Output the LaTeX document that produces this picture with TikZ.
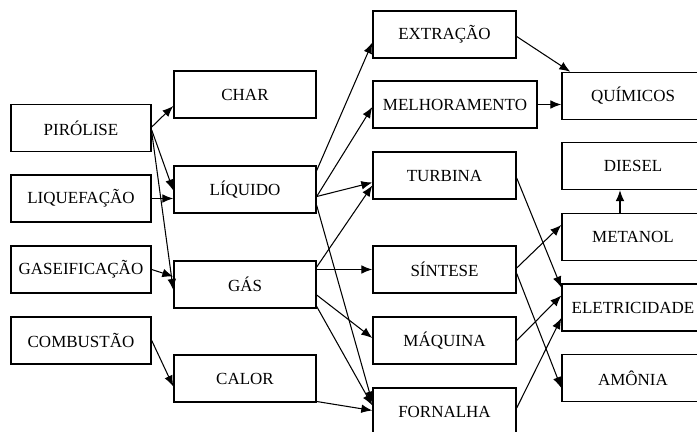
\documentclass[tikz,border=0pt]{standalone}
\usepackage{fontspec}
\setmainfont{Liberation Serif}
\usepackage{tikz}
\usetikzlibrary{arrows.meta,calc}
\tikzstyle{caixa}=[draw,line width=1.2pt,minimum height=1.41cm,inner sep=0pt,font=\fontsize{14.5}{17}\selectfont]
\tikzstyle{seta}=[draw,line width=0.9pt,-{Latex[length=3.3mm,width=2.6mm]}]

\begin{document}
\begin{tikzpicture}[x=0.03cm,y=-0.03cm]
\useasboundingbox (0,0) rectangle (697,432);
\clip (0,0) rectangle (697,432);
% processos
\node[caixa,minimum width=4.2cm](pirolise) at (81,128) {PIRÓLISE};
\node[caixa,minimum width=4.2cm](liquefacao) at (81,198.5) {LIQUEFAÇÃO};
\node[caixa,minimum width=4.2cm](gaseificacao) at (81,269.5) {GASEIFICAÇÃO};
\node[caixa,minimum width=4.2cm](combustao) at (81,340.5) {COMBUSTÃO};
% produtos
\node[caixa,minimum width=4.26cm](char) at (245,94.5) {CHAR};
\node[caixa,minimum width=4.26cm](liquido) at (245,189.5) {LÍQUIDO};
\node[caixa,minimum width=4.26cm](gas) at (245,284.5) {GÁS};
\node[caixa,minimum width=4.26cm](calor) at (245,378.5) {CALOR};
% conversao
\node[caixa,minimum width=4.29cm](extracao) at (444.5,34.5) {EXTRAÇÃO};
\node[caixa,minimum width=4.92cm](melhoramento) at (455,104.5) {MELHORAMENTO};
\node[caixa,minimum width=4.29cm](turbina) at (444.5,175.5) {TURBINA};
\node[caixa,minimum width=4.29cm](sintese) at (444.5,269.5) {SÍNTESE};
\node[caixa,minimum width=4.29cm](maquina) at (444.5,340.5) {MÁQUINA};
\node[caixa,minimum width=4.29cm](fornalha) at (444.5,411.5) {FORNALHA};
% mercado
\node[caixa,minimum width=4.26cm](quimicos) at (633,96) {QUÍMICOS};
\node[caixa,minimum width=4.26cm](diesel) at (633,166) {DIESEL};
\node[caixa,minimum width=4.26cm](metanol) at (633,237) {METANOL};
\node[caixa,minimum width=4.26cm](eletricidade) at (633,307.5) {ELETRICIDADE};
\node[caixa,minimum width=4.26cm](amonia) at (633,378) {AMÔNIA};
% setas da esquerda
\draw[seta] ($(pirolise.east)+(0,-1)$)--($(char.west)+(0,11.5)$);
\draw[seta] ($(pirolise.east)+(0,2)$)--($(liquido.west)+(0,1)$);
\draw[seta] ($(pirolise.east)+(0,4)$)--($(gas.west)+(0,5.5)$);
\draw[seta] (liquefacao.east)--($(liquido.west)+(0,9)$);
\draw[seta] (gaseificacao.east)--($(gas.west)+(0,-8)$);
\draw[seta] (combustao.east)--($(calor.west)+(0,8)$);
% setas do meio
\draw[seta] ($(liquido.east)+(0,-19)$)--($(extracao.west)+(0,8)$);
\draw[seta] ($(liquido.east)+(0,7)$)--($(melhoramento.west)+(0,2.5)$);
\draw[seta] ($(liquido.east)+(0,7)$)--($(turbina.west)+(0,7)$);
\draw[seta] ($(liquido.east)+(0,16)$)--($(fornalha.west)+(0,-9)$);
\draw[seta] ($(gas.east)+(0,-17.5)$)--($(turbina.west)+(0,10)$);
\draw[seta] ($(gas.east)+(0,-15)$)--(sintese.west);
\draw[seta] ($(gas.east)+(0,10.5)$)--($(maquina.west)+(0,-2.5)$);
\draw[seta] ($(gas.east)+(0,22)$)--($(fornalha.west)+(0,-6)$);
\draw[seta] ($(calor.east)+(0,23)$)--($(fornalha.west)+(0,-1)$);
% setas da direita
\draw[seta] ($(extracao.east)+(0,2)$)--($(quimicos.north west)+(9,0)$);
\draw[seta] (melhoramento.east)--($(quimicos.west)+(0,8.5)$);
\draw[seta] ($(metanol.north)+(-13,0)$)--($(diesel.south)+(-13,0)$);
\draw[seta] ($(turbina.east)+(0,2.5)$)--($(eletricidade.west)+(0,-20)$);
\draw[seta] ($(sintese.east)+(0,-1.5)$)--($(metanol.west)+(0,-12)$);
\draw[seta] ($(sintese.east)+(0,4)$)--($(amonia.west)+(0,10)$);
\draw[seta] (maquina.east)--($(eletricidade.west)+(0,-12)$);
\draw[seta] ($(fornalha.east)+(0,-3.5)$)--($(eletricidade.west)+(0,10.5)$);
\end{tikzpicture}
\end{document}
